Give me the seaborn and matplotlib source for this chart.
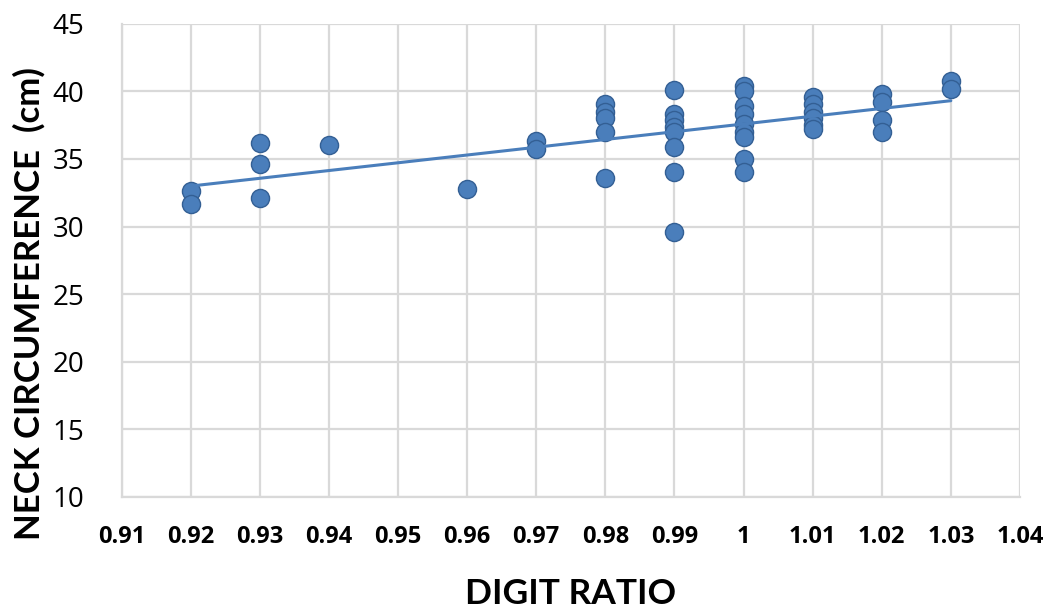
import seaborn as sns
import matplotlib.pyplot as plt
import pandas as pd
import numpy as np

sns.set_theme(style="whitegrid")
plt.rcParams["font.family"] = ["Lato", "Open Sans", "DejaVu Sans"]
plt.rcParams["text.color"] = "black"
plt.rcParams["xtick.color"] = "black"
plt.rcParams["ytick.color"] = "black"
plt.rcParams["axes.labelcolor"] = "black"

# 数据：从图上读取
digit_ratio = [0.92, 0.92,
               0.93, 0.93, 0.93,
               0.94,
               0.96,
               0.97, 0.97,
               0.98, 0.98, 0.98, 0.98, 0.98,
               0.99, 0.99, 0.99, 0.99, 0.99, 0.99, 0.99, 0.99,
               1.00, 1.00, 1.00, 1.00, 1.00, 1.00, 1.00, 1.00, 1.00,
               1.01, 1.01, 1.01, 1.01, 1.01, 1.01,
               1.02, 1.02, 1.02, 1.02,
               1.03, 1.03]
neck_cm = [32.6, 31.7,
           36.2, 34.6, 32.1,
           36.0,
           32.8,
           36.3, 35.7,
           39.1, 38.5, 38.0, 37.0, 33.6,
           40.1, 38.3, 37.9, 37.4, 37.0, 35.9, 34.0, 29.6,
           40.4, 40.0, 38.9, 38.3, 37.6, 37.0, 36.6, 35.0, 34.0,
           39.6, 39.1, 38.5, 38.0, 37.5, 37.2,
           39.8, 39.2, 37.9, 37.0,
           40.8, 40.2]
x_ticks = [0.91, 0.92, 0.93, 0.94, 0.95, 0.96, 0.97, 0.98, 0.99, 1.00,
           1.01, 1.02, 1.03, 1.04]
x_tick_labels = ["0.91", "0.92", "0.93", "0.94", "0.95", "0.96", "0.97",
                 "0.98", "0.99", "1", "1.01", "1.02", "1.03", "1.04"]
y_ticks = [10, 15, 20, 25, 30, 35, 40, 45]

df = pd.DataFrame({"ratio": digit_ratio, "neck": neck_cm})

fig, ax = plt.subplots(figsize=(10.58, 6.11), dpi=100)
fig.subplots_adjust(left=0.115, right=0.964, top=0.961, bottom=0.187)

sns.regplot(data=df, x="ratio", y="neck", ax=ax, ci=None, truncate=True,
            color="#4a7ebb",
            scatter_kws=dict(s=170, edgecolors="#335f94", linewidths=1.0,
                             alpha=1, zorder=3),
            line_kws=dict(linewidth=2.2, zorder=4))

ax.set_xlim(0.91, 1.04)
ax.set_ylim(10, 45)
ax.set_xticks(x_ticks)
ax.set_xticklabels(x_tick_labels, fontsize=17, fontweight="bold",
                   family=["Open Sans", "DejaVu Sans"])
ax.set_yticks(y_ticks)
ax.set_yticklabels([str(v) for v in y_ticks], fontsize=20,
                   family=["Open Sans", "DejaVu Sans"])
ax.tick_params(axis="x", pad=14)
ax.tick_params(axis="y", pad=21)

ax.grid(True, color="#d9d9d9", linewidth=1.6)
for side in ["top", "right"]:
    ax.spines[side].set_visible(False)
for side in ["left", "bottom"]:
    ax.spines[side].set_color("#d9d9d9")
    ax.spines[side].set_linewidth(1.6)

ax.set_xlabel("DIGIT RATIO", fontsize=25.5, fontweight="bold")
ax.xaxis.set_label_coords(0.5, -0.171)
ax.set_ylabel("NECK CIRCUMFERENCE  (cm)", fontsize=25, fontweight="bold")
ax.yaxis.set_label_coords(-0.085, 0.408)

plt.savefig("out.png", dpi=100)
plt.close()
